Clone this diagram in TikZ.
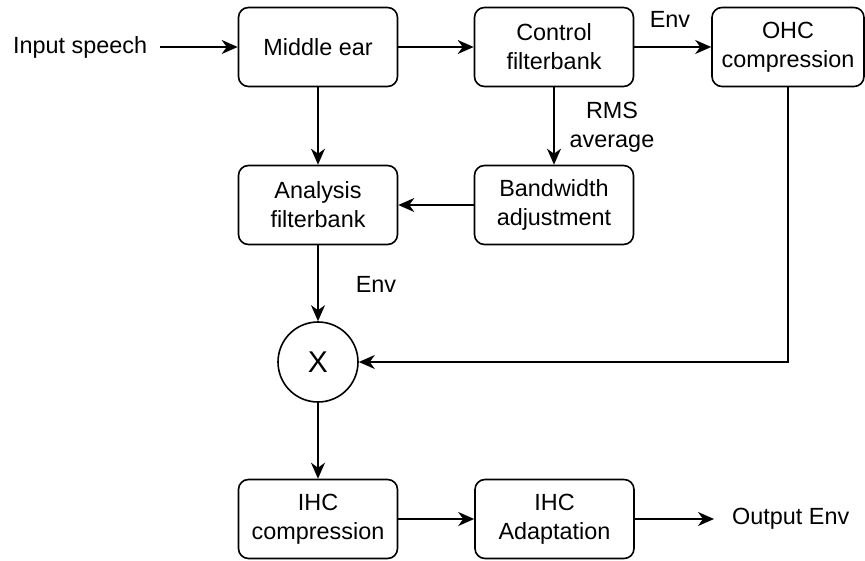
\documentclass[tikz,border=0pt]{standalone}
\usepackage{fontspec}
\setmainfont{Liberation Sans}
\usetikzlibrary{arrows.meta}
\begin{document}
\begin{tikzpicture}[x=1pt,y=-1pt,
  every node/.style={font=\fontsize{23.4}{29}\selectfont},
  block/.style={draw,line width=1.6pt,rounded corners=10pt,minimum width=159pt,
    minimum height=79pt,inner sep=0pt,align=center},
  mult/.style={draw,line width=1.6pt,circle,minimum size=80pt,inner sep=0pt,
    font=\fontsize{30}{34}\selectfont},
  lbl/.style={inner sep=0pt,align=center},
  flow/.style={line width=1.6pt,-{Stealth[length=16pt,width=14pt,inset=5pt]}}]
\useasboundingbox (0,0) rectangle (865,561);
% processing stages
\node[block] (mid) at (318,47) {Middle ear};
\node[block] (ctl) at (554,47) {Control\\filterbank};
\node[block,minimum width=152pt] (ohc) at (788,47) {OHC\\compression};
\node[block] (ana) at (318,205) {Analysis\\filterbank};
\node[block] (bw) at (554,205) {Bandwidth\\adjustment};
\node[mult] (x) at (318,362) {X};
\node[block] (ihc) at (318,519) {IHC\\compression};
\node[block] (ada) at (554.5,519) {IHC\\Adaptation};
% free labels
\node[lbl,anchor=west] (in) at (13,47) {Input speech};
\node[lbl,anchor=west] (out) at (732,519) {Output Env};
\node[lbl] (envtop) at (670,19) {Env};
\node[lbl] (rms) at (612,127) {RMS\\average};
\node[lbl] (envmid) at (376,284) {Env};
\coordinate (turn) at (ohc.south |- x.east);
\coordinate (outend) at (714,519);
% signal flow
\draw[flow] (160,47) -- (mid.west);
\draw[flow] (mid) -- (ctl);
\draw[flow] (ctl) -- (ohc);
\draw[flow] (mid) -- (ana);
\draw[flow] (ctl) -- (bw);
\draw[flow] (bw) -- (ana);
\draw[flow] (ana) -- (x);
\draw[flow] (ohc.south) -- (turn) -- (x.east);
\draw[flow] (x) -- (ihc);
\draw[flow] (ihc) -- (ada);
\draw[flow] (ada) -- (outend);
\end{tikzpicture}
\end{document}
